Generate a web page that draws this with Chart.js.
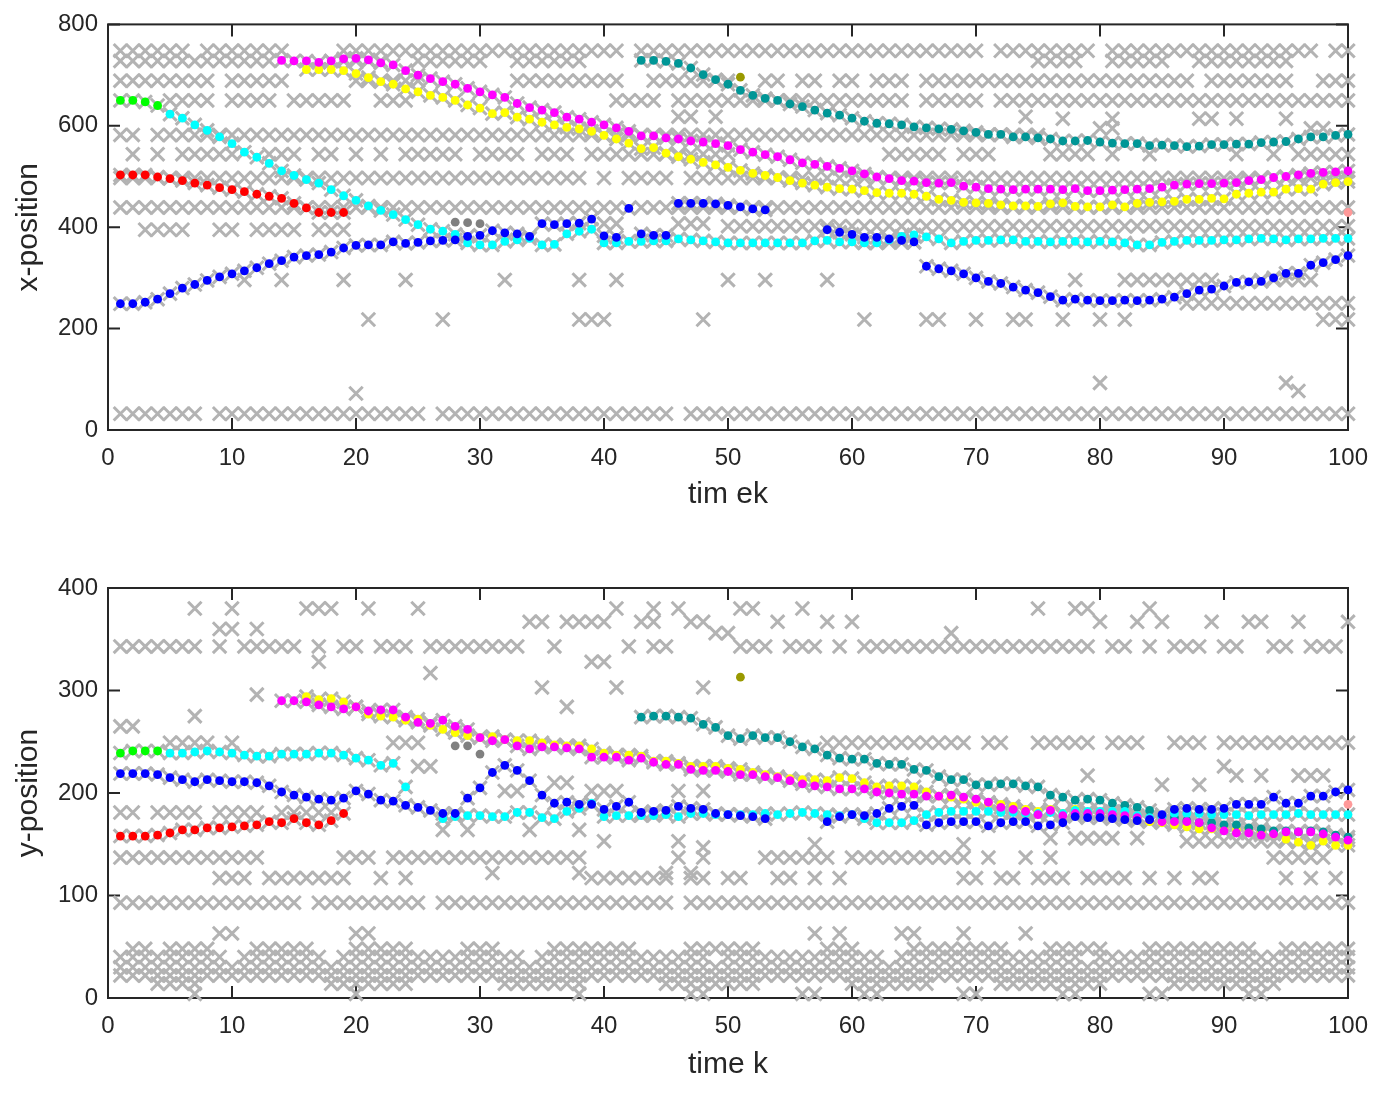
<!DOCTYPE html>
<html>
<head>
<meta charset="utf-8">
<script src="https://cdn.jsdelivr.net/npm/chart.js@4.4.1/dist/chart.umd.min.js"></script>
<style>
  body { margin: 0; background: #fff; }
  #chartX { position: absolute; left: 0; top: 0; }
  #chartY { position: absolute; left: 0; top: 560px; }
</style>
</head>
<body>
<canvas id="chartX" width="1391" height="530"></canvas>
<canvas id="chartY" width="1391" height="533"></canvas>
<script>
// ---- track estimates, x-position (first value is at time step "start") ----
const xGreenStart = 1;
const xGreen = [650, 650, 647, 640];
const xRedStart = 1;
const xRed = [503, 503, 503, 499, 496, 492, 487, 483, 478, 474, 470, 465, 461, 457, 447, 438, 429, 429, 429];
const xCyanStart = 5;
const xCyan = [623, 615, 602, 591, 578, 565, 548, 538, 526, 511, 502, 494, 487, 474, 462, 453, 442, 433, 425, 415,
  405, 396, 392, 386, 369, 365, 365, 372, 375, 378, 365, 366, 387, 392, 396, 369, 369, 372, 372, 373,
  373, 377, 375, 373, 371, 369, 369, 369, 369, 369, 369, 369, 373, 374, 371, 371, 369, 369, 375, 382,
  385, 381, 377, 369, 372, 374, 374, 375, 375, 372, 372, 371, 372, 372, 371, 372, 371, 369, 365, 365,
  370, 372, 374, 374, 374, 375, 375, 377, 378, 377, 375, 377, 377, 378, 378, 378];
const xBlueStart = 1;
const xBlue = [249, 249, 252, 258, 269, 280, 287, 295, 302, 308, 314, 320, 328, 334, 341, 344, 346, 351, 359, 364,
  365, 365, 371, 368, 370, 373, 374, 375, 382, 384, 393, 389, 387, 382, 407, 405, 407, 408, 416, 383,
  380, 437, 387, 384, 384, 447, 447, 447, 446, 443, 440, 436, 434, null, null, null, null, 395, 390, 386,
  380, 380, 377, 374, 371, 323, 318, 314, 308, 300, 293, 289, 282, 276, 271, 263, 256, 258, 256, 255,
  255, 256, 255, 256, 258, 262, 269, 276, 278, 284, 291, 292, 293, 300, 309, 309, 325, 330, 336, 344];
const xMagentaStart = 14;
const xMagenta = [729, 728, 728, 725, 728, 732, 733, 730, 724, 720, 709, 700, 693, 687, 682, 674, 667, 661, 656, 644,
  636, 631, 626, 617, 613, 607, 602, 596, 589, 580, 580, 576, 574, 570, 568, 565, 561, 553, 548, 543,
  539, 533, 527, 524, 520, 516, 511, 505, 499, 496, 492, 491, 488, 487, 488, 481, 479, 476, 475, 474,
  475, 475, 475, 474, 476, 472, 472, 473, 474, 475, 476, 479, 483, 485, 486, 486, 487, 488, 492, 494,
  498, 500, 503, 506, 508, 509, 511];
const xYellowStart = 16;
const xYellow = [711, 711, 711, 709, 703, 695, 687, 682, 673, 667, 660, 656, 650, 641, 635, 624, 626, 617, 613, 607,
  602, 597, 594, 589, 581, 574, 566, 555, 557, 546, 539, 534, 528, 523, 518, 512, 506, 502, 498, 492,
  487, 483, 479, 476, 475, 472, 468, 467, 467, 465, 461, 455, 453, 449, 448, 447, 444, 442, 442, 441,
  446, 448, 441, 440, 440, 444, 440, 447, 449, 450, 451, 455, 455, 457, 456, 465, 467, 469, 469, 475,
  476, 475, 485, 488, 490];
const xTealStart = 43;
const xTeal = [729, 729, 727, 723, 714, 701, 691, 682, 670, 660, 654, 650, 643, 638, 631, 625, 621, 615, 609, 605,
  604, 602, 598, 596, 594, 593, 590, 587, 583, 583, 578, 578, 576, 574, 570, 570, 571, 568, 566, 565,
  565, 561, 562, 561, 559, 560, 563, 563, 564, 564, 567, 568, 569, 574, 578, 578, 581, 583];
const xGrayStart = 28;
const xGray = [410, 409, 407];
const xOliveStart = 51;
const xOlive = [696];
const xPinkStart = 100;
const xPink = [429];

// ---- track estimates, y-position ----
const yGreenStart = 1;
const yGreen = [239, 241, 241, 241];
const yRedStart = 1;
const yRed = [158, 158, 158, 159, 161, 164, 164, 166, 166, 167, 168, 169, 172, 171, 175, 171, 169, 173, 180];
const yCyanStart = 5;
const yCyan = [239, 239, 240, 241, 240, 239, 237, 236, 236, 238, 238, 238, 239, 239, 237, 234, 232, 227, 229, 206,
  null, null, 175, 177, 178, 178, 177, 177, 181, 181, 176, 175, 182, 185, 190, 177, 178, 178, 178, 178,
  179, 177, 180, 180, 179, 179, 179, 179, 180, 179, 180, 181, 180, 179, 178, 179, 175, 171, 171, 171,
  173, 179, 181, 182, 182, 182, 182, 181, 181, 180, 180, 181, 180, 183, 182, 182, 182, 182, 178, 176,
  177, 180, 180, 180, 179, 179, 179, 178, 179, 179, 179, 180, 179, 179, 179, 179];
const yBlueStart = 1;
const yBlue = [219, 219, 219, 218, 215, 213, 211, 213, 212, 211, 211, 210, 207, 201, 198, 196, 194, 193, 195, 202,
  199, 193, 192, 188, 186, 183, 180, 180, 195, 205, 220, 227, 222, 212, 198, 190, 191, 189, 189, 184,
  187, 191, 181, 182, 183, 187, 185, 184, 180, 179, 178, 177, 175, null, null, null, null, 172, 177, 179,
  178, 180, 185, 187, 188, 169, 171, 172, 172, 172, 168, 171, 172, 172, 168, 169, 171, 177, 176, 176,
  175, 174, 173, 174, 179, 184, 185, 184, 184, 185, 189, 189, 189, 196, 190, 190, 197, 197, 201, 203];
const yMagentaStart = 14;
const yMagenta = [290, 290, 289, 286, 284, 282, 284, 280, 281, 281, 274, 269, 268, 271, 265, 262, 254, 251, 252, 246,
  243, 245, 245, 244, 243, 235, 235, 235, 232, 234, 230, 228, 228, 223, 222, 222, 221, 218, 218, 216,
  215, 212, 209, 207, 206, 204, 204, 204, 201, 200, 199, 199, 197, 197, 198, 196, 194, 191, 186, 184,
  182, 179, 183, 178, 180, 180, 180, 179, 178, 176, 174, 172, 172, 172, 171, 166, 163, 161, 161, 159,
  160, 162, 162, 162, 160, 157, 154];
const yYellowStart = 16;
const yYellow = [294, 291, 292, 289, 284, 277, 275, 274, 271, 272, 266, 262, 259, 256, 254, 255, 252, 251, 251, 249,
  247, 246, 246, 243, 239, 237, 237, 236, 231, 231, 229, 226, 226, 226, 224, 223, 220, 218, 216, 214,
  213, 213, 212, 215, 214, 210, 206, 207, 207, 206, 201, 197, 196, 194, 191, 190, 189, 187, 184, 182,
  184, 180, 184, 181, 180, 180, 179, 176, 172, 171, 169, 167, 165, 165, 165, 164, 165, 163, 160, 155,
  152, 149, 153, 149, 149];
const yTealStart = 43;
const yTeal = [274, 275, 275, 274, 273, 267, 264, 256, 253, 256, 254, 254, 250, 245, 243, 237, 234, 233, 233, 229,
  228, 228, 223, 222, 216, 213, 213, 208, 208, 209, 209, 207, 206, 198, 196, 193, 194, 193, 190, 188,
  186, 183, 177, 176, 173, 171, 171, 169, 169, 166, 165, 163, 163, 162, 163, 162, 159, 157];
const yGrayStart = 28;
const yGray = [246, 246, 238];
const yOliveStart = 51;
const yOlive = [313];
const yPinkStart = 100;
const yPink = [189];

const xClutter = [
  [748, 1, 6], [748, 8, 14], [748, 19, 41], [748, 43, 70], [748, 72, 79], [748, 81, 97], [748, 99, 100],
  [728, 1, 6], [728, 7, 13], [728, 18, 22], [728, 25, 30], [728, 33, 38], [728, 75, 78], [728, 81, 85], [728, 88, 95],
  [689, 1, 8], [689, 10, 14], [689, 20, 25], [689, 33, 36], [689, 37, 41], [689, 44, 50], [689, 53, 54], [689, 56, 57],
  [689, 59, 60], [689, 62, 64], [689, 66, 87], [689, 89, 95], [689, 98, 100],
  [650, 5, 8], [650, 10, 13], [650, 15, 19], [650, 22, 24], [650, 41, 44], [650, 46, 55], [650, 56, 60], [650, 61, 64],
  [650, 66, 70], [650, 72, 100],
  [618, 46, 47], [618, 49, 49], [618, 74, 74], [614, 77, 77], [614, 81, 81], [614, 88, 89], [614, 91, 91], [614, 95, 95],
  [595, 80, 81], [595, 97, 98],
  [582, 1, 2], [582, 4, 8], [582, 9, 38], [582, 39, 75],
  [544, 2, 2], [544, 4, 4], [544, 6, 8], [544, 9, 10], [544, 13, 14], [544, 15, 15], [544, 17, 18], [544, 20, 20],
  [544, 22, 22], [544, 24, 28], [544, 30, 33], [544, 35, 37], [544, 39, 50], [544, 63, 67], [544, 69, 71], [544, 76, 79],
  [544, 81, 81], [544, 84, 84], [544, 91, 91], [544, 94, 94], [544, 96, 98], [544, 99, 100],
  [497, 1, 10], [497, 11, 15], [497, 16, 38], [497, 40, 40], [497, 42, 45], [497, 47, 100],
  [439, 1, 15], [439, 16, 41], [439, 43, 100],
  [407, 40, 41], [407, 46, 48], [402, 50, 100],
  [395, 3, 6], [395, 9, 10], [395, 12, 15], [395, 17, 19],
  [370, 61, 63], [370, 64, 65],
  [296, 11, 11], [296, 14, 14], [296, 19, 19], [296, 24, 24], [296, 32, 32], [296, 38, 38], [296, 41, 41], [296, 50, 50],
  [296, 53, 53], [296, 58, 58], [296, 78, 78], [296, 82, 87], [296, 88, 89], [296, 93, 97],
  [250, 87, 100],
  [218, 21, 21], [218, 27, 27], [218, 38, 40], [218, 48, 48], [218, 61, 61], [218, 66, 67], [218, 70, 70], [218, 73, 74],
  [218, 77, 77], [218, 80, 80], [218, 82, 82], [218, 98, 100],
  [93, 80, 80], [93, 95, 95], [77, 96, 96], [72, 20, 20],
  [32, 1, 7], [32, 9, 15], [32, 16, 25], [32, 27, 45], [32, 47, 100]
];
const yClutter = [
  [380, 7, 7], [380, 10, 10], [380, 16, 18], [380, 21, 21], [380, 25, 25], [380, 41, 41], [380, 44, 44], [380, 46, 46],
  [380, 51, 52], [380, 56, 56], [380, 75, 75], [380, 78, 79], [380, 84, 84],
  [367, 34, 35], [367, 37, 38], [367, 39, 40], [367, 43, 44], [367, 47, 48], [367, 54, 54], [367, 58, 58], [367, 60, 60],
  [367, 80, 80], [367, 83, 83], [367, 85, 85], [367, 89, 89], [367, 92, 93], [367, 96, 96], [367, 100, 100],
  [360, 9, 10], [360, 12, 12], [356, 49, 50], [356, 68, 68],
  [343, 1, 7], [343, 9, 9], [343, 11, 12], [343, 13, 15], [343, 17, 17], [343, 19, 20], [343, 22, 24], [343, 26, 33],
  [343, 36, 36], [343, 42, 42], [343, 44, 45], [343, 51, 53], [343, 55, 57], [343, 59, 59], [343, 61, 67], [343, 68, 77],
  [343, 78, 79], [343, 81, 82], [343, 84, 84], [343, 86, 88], [343, 90, 91], [343, 94, 95], [343, 97, 99],
  [328, 17, 17], [328, 39, 40], [317, 26, 26], [303, 35, 35], [303, 41, 41], [303, 48, 48], [296, 12, 12], [284, 37, 37],
  [275, 7, 7], [265, 1, 2],
  [249, 5, 8], [249, 10, 10], [249, 23, 25], [249, 58, 67], [249, 68, 69], [249, 71, 72], [249, 75, 79], [249, 81, 83],
  [249, 86, 88], [249, 90, 100],
  [226, 25, 26], [226, 90, 90], [217, 79, 79], [217, 91, 91], [217, 93, 93], [217, 96, 98], [210, 36, 37], [208, 85, 85],
  [208, 88, 88], [202, 32, 33], [202, 39, 41], [202, 46, 46], [202, 48, 48],
  [181, 1, 2], [181, 4, 7], [181, 9, 12], [181, 14, 18],
  [164, 27, 27], [164, 29, 29], [164, 34, 34], [164, 38, 38],
  [156, 76, 76], [156, 78, 81], [156, 83, 83], [153, 40, 40], [153, 46, 46], [153, 87, 98], [150, 57, 57], [150, 69, 69],
  [147, 48, 48],
  [137, 1, 12], [137, 19, 21], [137, 23, 38], [137, 46, 46], [137, 48, 48], [137, 53, 58], [137, 60, 69], [137, 71, 71],
  [137, 74, 74], [137, 76, 76], [137, 94, 98],
  [122, 31, 31], [122, 38, 38], [122, 45, 45], [122, 47, 47],
  [117, 9, 11], [117, 13, 19], [117, 22, 22], [117, 24, 24], [117, 39, 45], [117, 47, 48], [117, 50, 51], [117, 54, 55],
  [117, 57, 57], [117, 59, 59], [117, 69, 70], [117, 72, 73], [117, 75, 77], [117, 79, 82], [117, 84, 84], [117, 86, 86],
  [117, 88, 89], [117, 95, 95], [117, 97, 97], [117, 99, 99],
  [93, 1, 15], [93, 17, 25], [93, 27, 45], [93, 47, 100],
  [63, 9, 10], [63, 20, 21], [63, 57, 57], [63, 59, 59], [63, 64, 65], [63, 69, 69], [63, 74, 74],
  [48, 2, 3], [48, 5, 8], [48, 12, 16], [48, 20, 24], [48, 29, 31], [48, 36, 42], [48, 47, 52], [48, 58, 60],
  [48, 65, 72], [48, 76, 80], [48, 84, 92], [48, 95, 100],
  [40, 1, 9], [40, 11, 17], [40, 19, 33], [40, 35, 48], [40, 50, 62], [40, 64, 78], [40, 80, 100],
  [30, 1, 100], [22, 1, 100],
  [14, 4, 7], [14, 18, 24], [14, 32, 38], [14, 45, 52], [14, 60, 66], [14, 72, 80], [14, 86, 94],
  [4, 7, 7], [4, 20, 20], [4, 38, 38], [4, 47, 48], [4, 56, 57], [4, 61, 62], [4, 69, 70], [4, 77, 78], [4, 84, 85], [4, 92, 93]
];

const FONT = '"Liberation Sans", Arial, Helvetica, sans-serif';
const INK = '#262626';

// turn a start step + values into scatter points
function track(start, vals) {
  const pts = [];
  vals.forEach((v, i) => { if (v !== null) pts.push({ x: start + i, y: v }); });
  return pts;
}
// expand clutter runs
function runs(list) {
  const pts = [];
  list.forEach(([v, a, b]) => { for (let k = a; k <= b; k++) pts.push({ x: k, y: v }); });
  return pts;
}

function dots(data, color) {
  return { data, pointStyle: 'circle', pointRadius: 4.4, pointBackgroundColor: color,
    pointBorderWidth: 0, pointBorderColor: color, showLine: false, clip: false };
}
function crosses(data) {
  return { data, pointStyle: 'crossRot', pointRadius: 9.5, pointBorderColor: '#b3b3b3',
    pointBorderWidth: 3, showLine: false, clip: false };
}

// box with inward ticks on all four sides
const framePlugin = {
  id: 'frame',
  beforeDatasetsDraw(chart) {
    const { ctx, chartArea: a, scales } = chart;
    ctx.save();
    ctx.strokeStyle = INK;
    ctx.lineWidth = 2;
    ctx.strokeRect(a.left, a.top, a.right - a.left, a.bottom - a.top);
    ctx.beginPath();
    scales.x.ticks.forEach(t => {
      const p = scales.x.getPixelForValue(t.value);
      ctx.moveTo(p, a.bottom); ctx.lineTo(p, a.bottom - 12);
      ctx.moveTo(p, a.top); ctx.lineTo(p, a.top + 12);
    });
    scales.y.ticks.forEach(t => {
      const p = scales.y.getPixelForValue(t.value);
      ctx.moveTo(a.left, p); ctx.lineTo(a.left + 12, p);
      ctx.moveTo(a.right, p); ctx.lineTo(a.right - 12, p);
    });
    ctx.stroke();
    ctx.restore();
  }
};

function makeChart(id, datasets, yMax, yStep, xTitle, yTitle, padTop, xHeight, xTitlePad) {
  return new Chart(document.getElementById(id), {
    type: 'scatter',
    data: { datasets },
    options: {
      responsive: false,
      animation: false,
      events: [],
      layout: { padding: { top: padTop, right: 43, left: 0, bottom: 0 } },
      plugins: { legend: { display: false }, tooltip: { enabled: false } },
      scales: {
        x: {
          type: 'linear', min: 0, max: 100,
          grid: { display: false, drawTicks: false }, border: { display: false },
          ticks: { stepSize: 10, padding: 14, color: INK, font: { size: 24, family: FONT } },
          title: { display: true, text: xTitle, color: INK, font: { size: 30, family: FONT }, padding: { top: 0, bottom: xTitlePad } },
          afterFit: s => { s.height = xHeight; }
        },
        y: {
          type: 'linear', min: 0, max: yMax,
          grid: { display: false, drawTicks: false }, border: { display: false },
          ticks: { stepSize: yStep, padding: 10, color: INK, font: { size: 24, family: FONT } },
          title: { display: true, text: yTitle, color: INK, font: { size: 30, family: FONT }, padding: { top: 11, bottom: 0 } },
          afterFit: s => { s.width = 108; }
        }
      }
    },
    plugins: [framePlugin]
  });
}

const xTracks = [
  [xBlueStart, xBlue], [xMagentaStart, xMagenta], [xCyanStart, xCyan], [xTealStart, xTeal],
  [xYellowStart, xYellow], [xRedStart, xRed], [xGreenStart, xGreen]
];
const yTracks = [
  [yBlueStart, yBlue], [yMagentaStart, yMagenta], [yCyanStart, yCyan], [yTealStart, yTeal],
  [yYellowStart, yYellow], [yRedStart, yRed], [yGreenStart, yGreen]
];
const colors = ['#0000ff', '#ff00ff', '#00ffff', '#009696', '#ffff00', '#ff0000', '#00ff00'];

function buildSets(tracks, gray, grayStart, olive, oliveStart, pink, pinkStart, clutter) {
  const sets = tracks.map(([s, v], i) => dots(track(s, v), colors[i]));
  sets.push(dots(track(grayStart, gray), '#808080'));
  sets.push(dots(track(oliveStart, olive), '#999900'));
  sets.push(dots(track(pinkStart, pink), '#ff9999'));
  // measurements along the tracks, then the clutter
  const meas = [];
  tracks.forEach(([s, v]) => meas.push(...track(s, v)));
  sets.push(crosses(meas));
  sets.push(crosses(runs(clutter)));
  return sets;
}

makeChart('chartX', buildSets(xTracks, xGray, xGrayStart, xOlive, xOliveStart, xPink, xPinkStart, xClutter),
  800, 200, 'tim ek', 'x-position', 20, 100, 17);
makeChart('chartY', buildSets(yTracks, yGray, yGrayStart, yOlive, yOliveStart, yPink, yPinkStart, yClutter),
  400, 100, 'time k', 'y-position', 28, 95, 10);
</script>
</body>
</html>
